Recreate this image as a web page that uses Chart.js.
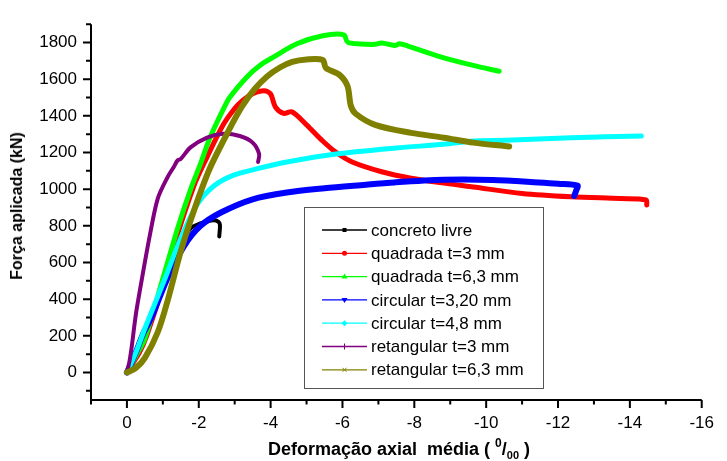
<!DOCTYPE html>
<html lang="pt">
<head>
<meta charset="UTF-8">
<title>Força aplicada x deformação axial média</title>
<script src="https://cdn.jsdelivr.net/npm/chart.js"></script>
<style>
    body { margin: 0; background: #fff; }
    .wrap { position: relative; width: 727px; height: 461px; font-family: 'Liberation Sans', Arial, sans-serif; color: #000; }
    .xtitle { position: absolute; left: 399px; top: 440px; transform: translateX(-50%); font-weight: bold; font-size: 18px; line-height: 18px; white-space: pre; }
    .xtitle .sup { position: relative; top: -8px; font-size: 12px; }
    .xtitle .sub { position: relative; top: 4px; font-size: 11px; }
    .ytitle { position: absolute; left: 17px; top: 206px; transform: translate(-50%, -50%) rotate(-90deg); font-weight: bold; font-size: 16px; line-height: 16px; white-space: nowrap; }
</style>
</head>
<body>
<div class="wrap">
    <canvas id="chart" width="727" height="461"></canvas>
    <div class="ytitle">Força aplicada (kN)</div>
    <div class="xtitle">Deformação axial  média ( <span class="sup">0</span>/<span class="sub">00</span> )</div>
</div>
<script>
// tick labels
const xTicks = [0, -2, -4, -6, -8, -10, -12, -14, -16];
const yTicks = [0, 200, 400, 600, 800, 1000, 1200, 1400, 1600, 1800];

// series (strain in per mil, load in kN)
const concretoX = [0, -0.25, -0.5, -0.77, -1.14, -1.5, -1.77, -2.05, -2.25, -2.41, -2.55, -2.59, -2.57];
const concretoY = [0, 80, 210, 362, 539, 690, 786, 813, 825, 830, 822, 804, 742];

const quad3X = [0, -0.35, -0.55, -1.05, -1.32, -1.86, -2.23, -2.68, -3.0, -3.2, -3.5, -3.82, -4.0, -4.13, -4.36, -4.59, -5.0, -5.45, -5.82, -6.27, -7.09, -7.91, -8.82, -9.64, -11.0, -12.36, -13.73, -14.45, -14.47];
const quad3Y = [0, 110, 200, 500, 698, 1016, 1175, 1351, 1440, 1480, 1520, 1537, 1519, 1449, 1413, 1422, 1351, 1263, 1201, 1148, 1095, 1060, 1033, 1012, 977, 959, 949, 942, 914];

const quad63X = [0, -0.32, -0.5, -1.04, -1.41, -1.77, -2.05, -2.3, -2.68, -2.86, -3.36, -3.7, -4.09, -4.73, -5.45, -6.04, -6.14, -6.5, -6.91, -7.09, -7.45, -7.59, -7.82, -8.73, -9.64, -10.36];
const quad63Y = [0, 115, 185, 539, 786, 998, 1139, 1275, 1435, 1500, 1616, 1675, 1722, 1793, 1837, 1842, 1802, 1792, 1790, 1798, 1784, 1793, 1781, 1722, 1675, 1643];

const circ32X = [0, -0.23, -0.45, -0.68, -1.14, -1.59, -2.05, -2.63, -3.5, -4.45, -5.5, -6.5, -7.45, -8.82, -10.18, -11.45, -12.0, -12.54, -12.5, -12.45];
const circ32Y = [0, 100, 210, 300, 520, 690, 800, 874, 945, 982, 1005, 1022, 1037, 1051, 1050, 1037, 1030, 1020, 990, 963];

const circ48X = [0, -0.25, -0.5, -1.04, -1.5, -1.95, -2.41, -2.95, -3.55, -4.45, -5.82, -7.5, -8.82, -9.64, -10.54, -12.36, -14.32];
const circ48Y = [0, 110, 240, 503, 733, 915, 1016, 1075, 1108, 1148, 1192, 1225, 1245, 1263, 1267, 1281, 1290];

const ret3X = [0, -0.07, -0.14, -0.21, -0.27, -0.41, -0.64, -0.86, -1.14, -1.3, -1.41, -1.5, -1.77, -2.23, -2.68, -3.14, -3.5, -3.68, -3.65];
const ret3Y = [0, 60, 150, 260, 344, 503, 751, 950, 1069, 1120, 1157, 1165, 1228, 1281, 1302, 1290, 1254, 1192, 1148];

const ret63X = [0, -0.25, -0.5, -0.86, -1.14, -1.5, -1.86, -2.3, -2.86, -3.2, -3.55, -3.9, -4.27, -4.6, -5.0, -5.45, -5.54, -5.91, -6.14, -6.23, -6.36, -6.91, -7.91, -8.82, -9.64, -10.64];
const ret63Y = [0, 25, 80, 221, 397, 662, 880, 1110, 1330, 1450, 1545, 1615, 1665, 1695, 1708, 1705, 1661, 1625, 1563, 1457, 1413, 1351, 1307, 1281, 1254, 1233];

const seriesNames = ['concreto livre', 'quadrada t=3 mm', 'quadrada t=6,3 mm', 'circular t=3,20 mm', 'circular t=4,8 mm', 'retangular t=3 mm', 'retangular t=6,3 mm'];

const FONT = "'Liberation Sans', Arial, sans-serif";
const styles = [
    { color: '#000000', width: 4, marker: 'square' },
    { color: '#ff0000', width: 5, marker: 'circle' },
    { color: '#00ff00', width: 5, marker: 'triUp' },
    { color: '#0000ff', width: 6, marker: 'triDown' },
    { color: '#00ffff', width: 5, marker: 'diamond' },
    { color: '#800080', width: 4, marker: 'plus' },
    { color: '#808000', width: 6, marker: 'cross' }
];

const xs = [concretoX, quad3X, quad63X, circ32X, circ48X, ret3X, ret63X];
const ys = [concretoY, quad3Y, quad63Y, circ32Y, circ48Y, ret3Y, ret63Y];

const datasets = seriesNames.map((name, i) => ({
    label: name,
    data: xs[i].map((x, k) => ({ x: x, y: ys[i][k] })),
    borderColor: styles[i].color,
    borderWidth: styles[i].width,
    pointRadius: 0,
    showLine: true,
    tension: 0.3,
    borderCapStyle: 'round',
    borderJoinStyle: 'round',
    order: seriesNames.length - i
}));

function drawMarker(ctx, kind, x, y, color) {
    ctx.fillStyle = color;
    ctx.strokeStyle = color;
    ctx.lineWidth = 1;
    ctx.beginPath();
    if (kind === 'square') {
        ctx.fillRect(x - 2, y - 2, 4, 4);
    } else if (kind === 'circle') {
        ctx.arc(x, y, 2.5, 0, Math.PI * 2);
        ctx.fill();
    } else if (kind === 'triUp') {
        ctx.moveTo(x, y - 3); ctx.lineTo(x + 3, y + 2); ctx.lineTo(x - 3, y + 2);
        ctx.closePath(); ctx.fill();
    } else if (kind === 'triDown') {
        ctx.moveTo(x, y + 3); ctx.lineTo(x + 3, y - 2); ctx.lineTo(x - 3, y - 2);
        ctx.closePath(); ctx.fill();
    } else if (kind === 'diamond') {
        ctx.moveTo(x, y - 3); ctx.lineTo(x + 3, y); ctx.lineTo(x, y + 3); ctx.lineTo(x - 3, y);
        ctx.closePath(); ctx.fill();
    } else if (kind === 'plus') {
        ctx.moveTo(x, y - 3); ctx.lineTo(x, y + 3);
        ctx.moveTo(x - 2, y); ctx.lineTo(x + 2, y);
        ctx.stroke();
    } else if (kind === 'cross') {
        ctx.moveTo(x - 2, y - 2); ctx.lineTo(x + 2, y + 2);
        ctx.moveTo(x + 2, y - 2); ctx.lineTo(x - 2, y + 2);
        ctx.stroke();
    }
}

// open axes with major/minor tick marks, plus the boxed legend inside the plot
const axesAndLegend = {
    id: 'axesAndLegend',
    afterDatasetsDraw(chart) {
        const { ctx, chartArea: a, scales: { x, y } } = chart;
        ctx.save();
        ctx.strokeStyle = '#000';
        ctx.lineWidth = 2;
        ctx.beginPath();
        ctx.moveTo(a.left, a.top);
        ctx.lineTo(a.left, a.bottom);
        ctx.lineTo(a.right, a.bottom);
        ctx.stroke();

        const xMinor = xTicks.map(v => v + 1);
        const yMinor = yTicks.map(v => v - 100).concat([yTicks[yTicks.length - 1] + 100]);
        ctx.beginPath();
        xTicks.forEach(v => { const p = x.getPixelForValue(v); ctx.moveTo(p, a.bottom); ctx.lineTo(p, a.bottom + 8); });
        xMinor.forEach(v => { const p = x.getPixelForValue(v); ctx.moveTo(p, a.bottom); ctx.lineTo(p, a.bottom + 4.5); });
        yTicks.forEach(v => { const p = y.getPixelForValue(v); ctx.moveTo(a.left, p); ctx.lineTo(a.left - 8, p); });
        yMinor.forEach(v => { const p = y.getPixelForValue(v); ctx.moveTo(a.left, p); ctx.lineTo(a.left - 5, p); });
        ctx.stroke();

        // legend
        const L = 304, T = 207, W = 239, H = 181;
        ctx.fillStyle = '#fff';
        ctx.fillRect(L, T, W, H);
        ctx.strokeStyle = '#555';
        ctx.lineWidth = 1;
        ctx.strokeRect(L + 0.5, T + 0.5, W, H);
        ctx.font = '17px ' + FONT;
        ctx.textBaseline = 'middle';
        ctx.textAlign = 'left';
        seriesNames.forEach((name, i) => {
            const ry = 230 + i * 23.3;
            ctx.strokeStyle = styles[i].color;
            ctx.lineWidth = 1.3;
            ctx.beginPath();
            ctx.moveTo(322, ry); ctx.lineTo(367, ry);
            ctx.stroke();
            drawMarker(ctx, styles[i].marker, 344.5, ry, styles[i].color);
            ctx.fillStyle = '#000';
            ctx.fillText(name, 371, ry + 1);
        });
        ctx.restore();
    }
};

new Chart(document.getElementById('chart'), {
    type: 'scatter',
    data: { datasets: datasets },
    options: {
        responsive: false,
        animation: false,
        devicePixelRatio: 1,
        layout: { padding: { top: 13, right: 14, left: 0, bottom: 0 } },
        plugins: { legend: { display: false }, tooltip: { enabled: false } },
        scales: {
            x: {
                type: 'linear',
                min: -16,
                max: 1,
                reverse: true,
                afterFit: s => { s.height = 61; },
                afterBuildTicks: s => { s.ticks = xTicks.map(v => ({ value: v })); },
                grid: { display: false, drawTicks: false },
                border: { display: false },
                ticks: { color: '#000', font: { family: FONT, size: 17 }, padding: 13, maxRotation: 0, autoSkip: false, callback: v => String(v) }
            },
            y: {
                type: 'linear',
                min: -150,
                max: 1900,
                afterFit: s => { s.width = 91; },
                afterBuildTicks: s => { s.ticks = yTicks.map(v => ({ value: v })); },
                grid: { display: false, drawTicks: false },
                border: { display: false },
                ticks: { color: '#000', font: { family: FONT, size: 17 }, padding: 14, autoSkip: false, callback: v => String(v) }
            }
        }
    },
    plugins: [axesAndLegend]
});
</script>
</body>
</html>
